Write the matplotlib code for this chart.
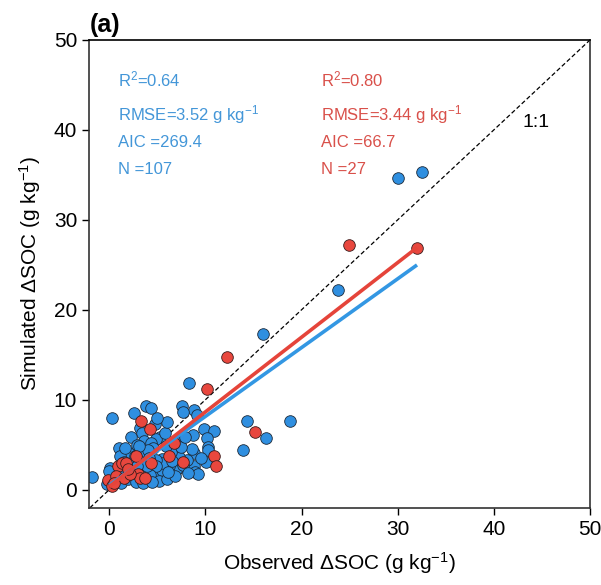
import numpy as np
import matplotlib
matplotlib.use("Agg")
import matplotlib.pyplot as plt

plt.rcParams['font.family'] = ['Liberation Sans', 'DejaVu Sans']
plt.rcParams['mathtext.fontset'] = 'custom'
plt.rcParams['mathtext.rm'] = 'Liberation Sans'
plt.rcParams['mathtext.it'] = 'Liberation Sans:italic'
plt.rcParams['mathtext.bf'] = 'Liberation Sans:bold'

# Blue group (N = 107): observed, simulated
blue_obs = [30.0, 32.5, 23.8, 16.0, 18.8, 16.3, 8.3, 8.8, 9.1, 14.3,
            13.9, 9.9, 10.9, 8.7, 10.2, 10.3, 10.3, 8.8, 10.1, 8.8,
            8.9, 9.2, 3.8, 4.4, 7.6, 7.7, 2.6, 0.3, 3.2, 3.4,
            2.3, 3.6, 5.3, 4.9, 4.3, 4.6, 1.0, 1.4, 2.1, 2.7,
            3.2, 3.6, 4.0, 5.5, 8.6, 8.1, 7.4, -1.8, 5.8, 1.0,
            0.1, -0.2, 1.8, 3.0, 3.0, 3.7, 4.3, 4.7, 5.0, 5.8,
            6.5, 7.0, 7.7, 6.2, 5.5, 5.6, 4.9, 4.1, 1.1, 1.5,
            2.4, 2.2, 2.5, 4.9, 0.5, 0.8, 1.2, 2.0, 2.8, 3.5,
            4.2, 5.2, 6.0, 6.8, 7.3, 6.4, 5.9, 7.0, 7.5, 6.5,
            3.9, 2.9, 1.9, 0.4, 1.6, 2.9, 4.8, 6.0, 5.0, 3.1,
            0.0, 7.9, 8.2, 9.5, 1.3, 6.1, 4.5]
blue_sim = [34.6, 35.3, 22.2, 17.3, 7.6, 5.8, 11.9, 8.9, 8.3, 7.6,
            4.4, 6.7, 6.5, 6.1, 5.7, 4.8, 4.4, 4.1, 3.1, 2.6,
            2.0, 1.7, 9.3, 9.1, 9.3, 8.6, 8.5, 8.0, 6.9, 6.3,
            5.9, 5.4, 5.9, 5.6, 5.2, 4.6, 4.6, 3.9, 4.1, 3.7,
            4.3, 4.0, 4.4, 3.4, 4.5, 3.3, 2.5, 1.4, 6.3, 2.2,
            2.4, 0.6, 2.4, 3.3, 1.1, 2.0, 2.8, 1.1, 1.5, 1.4,
            1.9, 2.2, 2.8, 2.6, 2.2, 3.0, 3.3, 3.5, 3.7, 3.1,
            3.0, 2.2, 1.9, 2.6, 1.8, 1.0, 0.7, 1.2, 0.9, 0.8,
            1.6, 1.0, 1.2, 1.5, 3.6, 4.2, 4.9, 5.3, 4.7, 3.2,
            2.6, 2.6, 1.6, 0.9, 4.6, 5.0, 7.3, 7.5, 8.0, 4.9,
            2.1, 5.9, 1.9, 3.5, 1.6, 2.0, 0.9]

# Red group (N = 27)
red_obs = [24.9, 32.0, 12.2, 10.2, 3.3, 4.2, 6.2, 6.7, 7.7, 15.2,
           10.9, 11.1, 0.9, -0.1, 0.3, 1.3, 1.8, 2.8, 3.0, 3.2,
           3.7, 4.4, 0.7, 1.5, 2.2, 0.5, 2.0]
red_sim = [27.2, 26.9, 14.8, 11.2, 7.6, 6.7, 3.8, 5.2, 3.1, 6.4,
           3.7, 2.6, 2.6, 1.1, 0.4, 3.0, 3.0, 3.7, 1.7, 1.3,
           1.3, 3.0, 1.5, 1.3, 1.7, 0.8, 2.3]

# fitted lines (slope, intercept) and x range
blue_fit = (0.765, 0.5)
red_fit = (0.83, 0.35)
fit_x = [0, 32]

blue_stats = ["R$^2$=0.64", "RMSE=3.52 g kg$^{-1}$", "AIC =269.4", "N =107"]
red_stats = ["R$^2$=0.80", "RMSE=3.44 g kg$^{-1}$", "AIC =66.7", "N =27"]

c_blue = '#2F8FE0'
c_red = '#E8473E'
c_blue_line = '#3397E3'
c_red_line = '#E5443A'
c_blue_txt = '#4396D8'
c_red_txt = '#D9504A'

fig = plt.figure(figsize=(6.01, 5.85), dpi=100)
ax = fig.add_axes([0.148, 0.132, 0.834, 0.800])

ax.plot([-2, 50], [-2, 50], ls=(0, (3.5, 2)), color='black', lw=0.9, zorder=1)

ax.scatter(blue_obs, blue_sim, s=70, c=c_blue, edgecolors='#1c2a3a', linewidths=0.6, zorder=2)
ax.scatter(red_obs, red_sim, s=70, c=c_red, edgecolors='#3a1c1c', linewidths=0.6, zorder=3)

xs = np.array(fit_x, dtype=float)
ax.plot(xs, blue_fit[0] * xs + blue_fit[1], color=c_blue_line, lw=2.6, zorder=4, solid_capstyle='butt')
ax.plot(xs, red_fit[0] * xs + red_fit[1], color=c_red_line, lw=2.6, zorder=5, solid_capstyle='butt')

ys = [45.6, 41.7, 38.6, 35.6]
for t, y in zip(blue_stats, ys):
    ax.text(0.9, y, t, color=c_blue_txt, fontsize=12, va='center', ha='left')
for t, y in zip(red_stats, ys):
    ax.text(22.0, y, t, color=c_red_txt, fontsize=12, va='center', ha='left')

ax.text(44.4, 40.8, '1:1', fontsize=14, ha='center', va='center')

ax.set_xlim(-2.1, 50)
ax.set_ylim(-2, 50)
ax.set_xticks([0, 10, 20, 30, 40, 50])
ax.set_yticks([0, 10, 20, 30, 40, 50])
ax.tick_params(labelsize=15, length=5, width=1, direction='out')
for sp in ax.spines.values():
    sp.set_color('#333333')
    sp.set_linewidth(1.2)
ax.spines['top'].set_color('black')

ax.set_xlabel('Observed ΔSOC (g kg$^{-1}$)', fontsize=15, labelpad=8)
ax.set_ylabel('Simulated ΔSOC (g kg$^{-1}$)', fontsize=15, labelpad=8)

fig.text(0.149, 0.957, '(a)', fontsize=18, fontweight='bold', ha='left', va='center')

fig.savefig('out.png', dpi=100)
